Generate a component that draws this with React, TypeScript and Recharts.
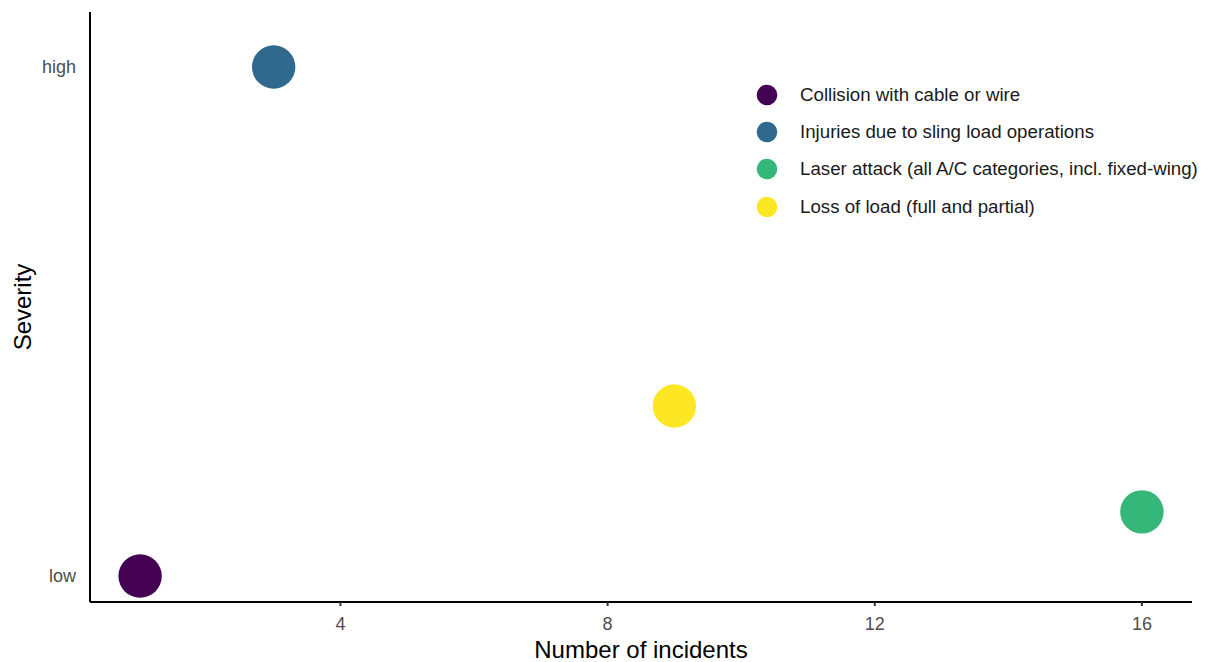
import { ScatterChart, Scatter, XAxis, YAxis, Label } from 'recharts';

const categories = [
  'Collision with cable or wire',
  'Injuries due to sling load operations',
  'Laser attack (all A/C categories, incl. fixed-wing)',
  'Loss of load (full and partial)',
];
const incidents = [1, 3, 16, 9];
const severity = [0, 1, 0.126, 0.334];
const colors = ['#440154', '#31688E', '#35B779', '#FDE725'];
const xTicks = [4, 8, 12, 16];
const yTicks = [0, 1];
const yTickLabels: Record<number, string> = { 0: 'low', 1: 'high' };

const FONT = '"Liberation Sans", Arial, Helvetica, sans-serif';

const Bubble = (props: any) => {
  const { cx, cy, fill } = props;
  if (cx == null || cy == null) return null;
  return <circle cx={cx} cy={cy} r={21.7} fill={fill} />;
};

const LegendBox = () => (
  <div
    style={{
      position: 'absolute',
      top: 76,
      left: 756,
      fontFamily: FONT,
      fontSize: 18.7,
      color: '#1a1a1a',
    }}
  >
    {categories.map((name, i) => (
      <div key={name} style={{ display: 'flex', alignItems: 'center', height: 37.3, whiteSpace: 'nowrap' }}>
        <svg width={22} height={22} style={{ marginRight: 22 }}>
          <circle cx={11} cy={11} r={10.3} fill={colors[i]} />
        </svg>
        <span>{name}</span>
      </div>
    ))}
  </div>
);

const App = () => {
  return (
    <div style={{ position: 'relative', width: 1209, height: 662, background: '#fff' }}>
      <style>{'body{margin:0}'}</style>
      <ScatterChart width={1209} height={662} margin={{ top: 12, right: 17, bottom: 0, left: 0 }}>
        <XAxis
          type="number"
          dataKey="x"
          domain={[0.25, 16.75]}
          ticks={xTicks}
          allowDataOverflow
          height={60}
          tickSize={4}
          tickMargin={11}
          axisLine={{ stroke: '#000', strokeWidth: 2 }}
          tickLine={{ stroke: '#333', strokeWidth: 2 }}
          tick={{ fill: '#4d4d4d', fontSize: 18, fontFamily: FONT }}
        >
          <Label
            value="Number of incidents"
            position="insideBottom"
            offset={4}
            style={{ fill: '#000', fontSize: 24, fontFamily: FONT }}
          />
        </XAxis>
        <YAxis
          type="number"
          dataKey="y"
          domain={[-0.051, 1.108]}
          ticks={yTicks}
          allowDataOverflow
          width={90}
          tickLine={false}
          tickSize={0}
          tickMargin={14}
          tickFormatter={(v: number) => yTickLabels[v] ?? ''}
          axisLine={{ stroke: '#000', strokeWidth: 2 }}
          tick={{ fill: '#4d4d4d', fontSize: 18, fontFamily: FONT }}
        >
          <Label
            content={({ viewBox }: any) => {
              const cx = viewBox.x + 31;
              const cy = viewBox.y + viewBox.height / 2;
              return (
                <text
                  x={cx}
                  y={cy}
                  transform={`rotate(-90 ${cx} ${cy})`}
                  textAnchor="middle"
                  fill="#000"
                  fontSize={24}
                  fontFamily={FONT}
                >
                  Severity
                </text>
              );
            }}
          />
        </YAxis>
        {categories.map((name, i) => (
          <Scatter
            key={name}
            name={name}
            data={[{ x: incidents[i], y: severity[i] }]}
            fill={colors[i]}
            shape={Bubble}
            isAnimationActive={false}
          />
        ))}
      </ScatterChart>
      <LegendBox />
    </div>
  );
};

export default App;
